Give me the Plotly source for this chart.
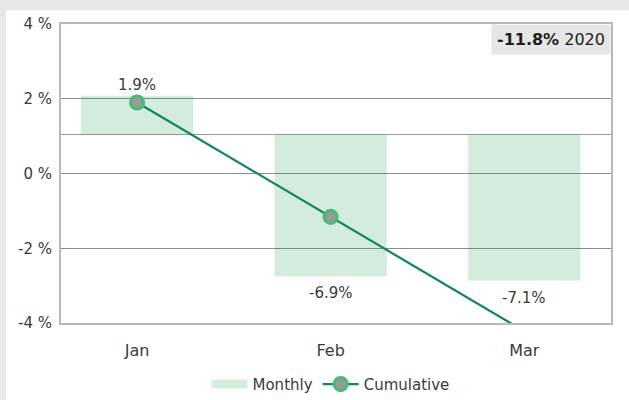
import plotly.graph_objects as go

months = ["Jan", "Feb", "Mar"]
monthly = [1.9, -6.9, -7.1]          # monthly return (%), bar labels
cumulative = [1.9, -1.16, -4.22]     # cumulative line, as drawn on the left axis
y_ticks = [4, 2, 0, -2, -4]
y_tick_labels = ["4 %", "2 %", "0 %", "-2 %", "-4 %"]
headline_value = "-11.8%"
headline_year = "2020"

FONT = "DejaVu Sans"
TXT = "#3a3a3a"
BAR = "rgba(40,160,90,0.205)"
LINE = "#10875a"
MK_EDGE = "#4cba77"

fig = go.Figure()

fig.add_trace(go.Bar(
    x=months, y=monthly, yaxis="y", marker=dict(color=BAR, line=dict(width=0)),
    width=0.58, showlegend=False, hoverinfo="skip"))

fig.add_trace(go.Scatter(
    x=[None], y=[None], mode="lines", name="Monthly",
    line=dict(color="#d3ecdd", width=9)))

fig.add_trace(go.Scatter(
    x=months, y=cumulative, yaxis="y2", mode="lines+markers", name="Cumulative",
    line=dict(color=LINE, width=2.2),
    marker=dict(size=13, color="#9a9a9a", line=dict(color=MK_EDGE, width=3.2))))

for m, v in zip(months, monthly):
    fig.add_annotation(
        x=m, y=v, xref="x", yref="y", text=f"{v}%", showarrow=False,
        yanchor="bottom" if v >= 0 else "top", yshift=0 if v >= 0 else -6,
        font=dict(family=FONT, size=15, color=TXT))

fig.add_annotation(
    xref="paper", yref="paper", x=1, y=1, xanchor="right", yanchor="top",
    text=f"<b>{headline_value}</b> {headline_year}", showarrow=False,
    bgcolor="#e6e6e6", borderpad=5,
    font=dict(family=FONT, size=16, color="#1e1e1e"))

# white card over grey page
fig.add_shape(type="rect", xref="paper", yref="paper",
              x0=-0.1, x1=1.04, y0=-0.3, y1=1.045,
              fillcolor="white", line=dict(width=0), layer="below")

fig.update_layout(
    width=629, height=400,
    margin=dict(l=61, r=18, t=24, b=77, autoexpand=False),
    paper_bgcolor="#e8e8e8", plot_bgcolor="white",
    font=dict(family=FONT, size=14, color=TXT),
    xaxis=dict(range=[-0.393, 2.448], showgrid=False, zeroline=False,
               showline=True, linecolor="#b8b8b8", linewidth=1.5, mirror=True,
               ticks="", ticklabelstandoff=12, automargin=False,
               tickfont=dict(family=FONT, size=16, color=TXT)),
    yaxis=dict(range=[-9.17, 5.40], showticklabels=False, showgrid=False,
               zeroline=True, zerolinecolor="#9a9a9a", zerolinewidth=1.2,
               showline=True, linecolor="#b8b8b8", linewidth=1.5, mirror=True,
               ticks="", automargin=False),
    yaxis2=dict(range=[-4, 4], overlaying="y", side="left",
                tickvals=y_ticks, ticktext=y_tick_labels,
                showgrid=True, gridcolor="#8a8a8a", gridwidth=1,
                zeroline=False, showline=False, ticks="",
                ticklabelstandoff=8, automargin=False,
                tickfont=dict(family=FONT, size=15, color=TXT)),
    legend=dict(orientation="h", x=0.49, xanchor="center", y=-0.205,
                yanchor="middle", font=dict(family=FONT, size=15, color=TXT),
                bgcolor="rgba(0,0,0,0)", itemwidth=36),
    showlegend=True,
)

fig.write_html("out.html", config={"displayModeBar": False},
               post_script="document.body.style.margin='0';")
